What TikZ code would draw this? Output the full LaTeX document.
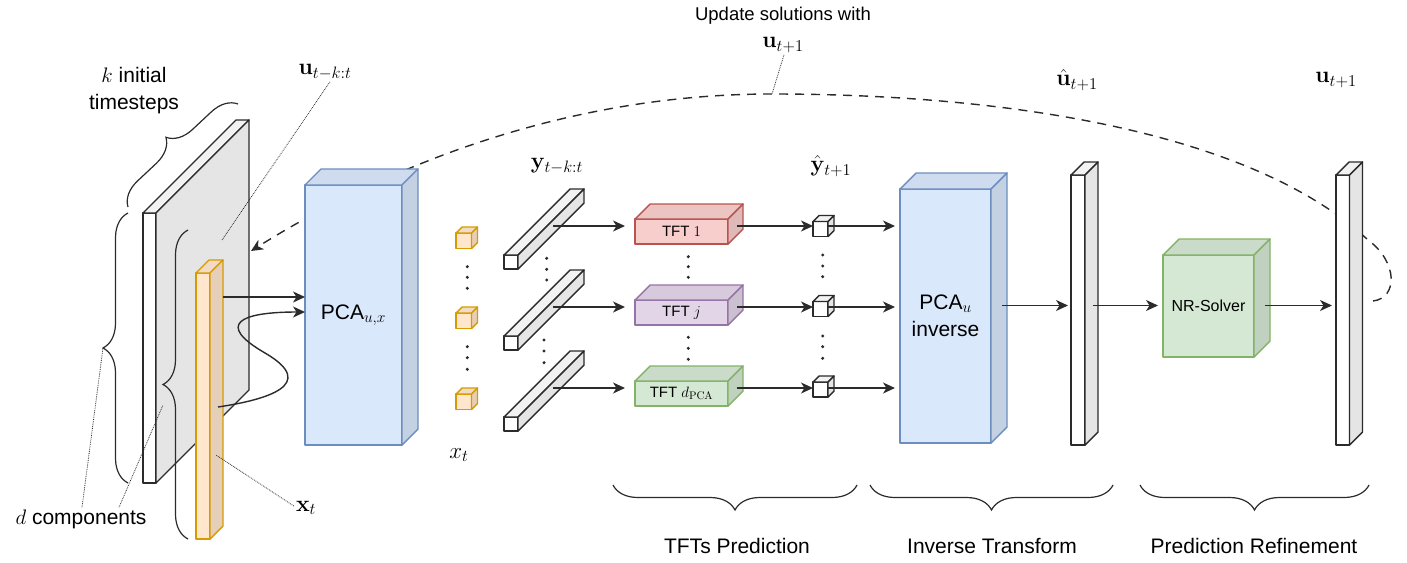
\documentclass[tikz,border=0pt]{standalone}
\usepackage{fix-cm}
\usepackage[no-math]{fontspec}
\setmainfont{Liberation Sans}
\usepackage{amsmath}
\usetikzlibrary{arrows.meta,calc,decorations.pathreplacing}
\DeclareMathSizes{21}{21}{15.5}{11}
\DeclareMathSizes{23}{23}{16.5}{12}
\DeclareMathSizes{15}{15}{11}{8}
\DeclareMathSizes{16}{16}{11.5}{8}
\DeclareMathSizes{18.5}{18.5}{13}{10}
\definecolor{BlueFill}{HTML}{DAE8FC}
\definecolor{BlueLine}{HTML}{6C8EBF}
\definecolor{OrangeFill}{HTML}{FFE6CC}
\definecolor{OrangeLine}{HTML}{D79B00}
\definecolor{RedFill}{HTML}{F8CECC}
\definecolor{RedLine}{HTML}{B85450}
\definecolor{PurpleFill}{HTML}{E1D5E7}
\definecolor{PurpleLine}{HTML}{9673A6}
\definecolor{GreenFill}{HTML}{D5E8D4}
\definecolor{GreenLine}{HTML}{82B366}
\definecolor{EdgeGray}{HTML}{2B2B2B}
\tikzset{>={Stealth[length=12pt,width=11pt,inset=3.5pt]},every node/.style={font=\fontsize{21}{27}\selectfont,inner sep=2pt},
 block/.style={draw,line width=1.4pt,line join=round,inner sep=0pt,outer sep=0pt,anchor=north west,align=center},
 tftbox/.style={block,minimum width=93pt,minimum height=25pt,font=\fontsize{15}{18}\selectfont},
 flow/.style={->,line width=1.4pt,draw=EdgeGray},
 leader/.style={densely dotted,line width=0.8pt,draw=EdgeGray},
 curly/.style={decorate,decoration={brace,amplitude=25pt},line width=1.2pt,draw=EdgeGray},
 mathlbl/.style={font=\fontsize{23}{27}\selectfont}}
% top and side faces of a box whose front face is node #1
\newcommand{\cubefaces}[4]{%
 \filldraw[#3!95!black,draw=#4,line width=1.4pt,line join=round]
  (#1.north west) -- ++(#2,-#2) -- ([shift={(#2,-#2)}]#1.north east) -- (#1.north east) -- cycle;
 \filldraw[#3!90!black,draw=#4,line width=1.4pt,line join=round]
  (#1.north east) -- ++(#2,-#2) -- ([shift={(#2,-#2)}]#1.south east) -- (#1.south east) -- cycle;}

\begin{document}
\begin{tikzpicture}[x=1pt,y=-1pt]
\useasboundingbox (0,0) rectangle (1407,562);

% feedback loop first, the blocks hide parts of it
\coordinate (loopstart) at (1373,301);
\coordinate (apex) at (772,94);
\coordinate (slabhit) at (251,251);
\draw[->,line width=1.4pt,draw=EdgeGray,dash pattern=on 9pt off 7pt] (loopstart) .. controls (1398,298) and (1398,262) .. (1368,240)
 .. controls (1250,130) and (1000,94) .. (apex) .. controls (560,94) and (380,170) .. (slabhit);
\node[align=center] (updlbl) at (783,30) {\fontsize{18.5}{26}\selectfont Update solutions with\\\fontsize{23}{26}\selectfont$\mathbf{u}_{t+1}$};
\draw[leader] ([xshift=1pt]updlbl.south) -- (apex);

% input slab and x_t column
\node[block,fill=white,draw=EdgeGray,minimum width=13pt,minimum height=270pt] (slab) at (143,213) {};
\cubefaces{slab}{93}{white}{EdgeGray}
\node[block,fill=OrangeFill,draw=OrangeLine,minimum width=14pt,minimum height=266pt] (xbar) at (196,273) {};
\cubefaces{xbar}{13}{OrangeFill}{OrangeLine}

\draw[curly] (128,207) -- (238,104);
\draw[curly] (128,483) -- (128,213);
\draw[curly] (188,539) -- (188,230);
\node[align=center] (klbl) at (134,91) {$k$ initial\\timesteps};
\node (dlbl) at (81,519) {$d$ components};
\coordinate (dtip1) at (103,348);
\coordinate (dtip2) at (163,405);
\draw[leader] ([xshift=1pt]dlbl.north) -- (dtip1);
\draw[leader] ([xshift=38pt]dlbl.north) -- (dtip2);
\node[mathlbl] (ulbl) at (325,72) {$\mathbf{u}_{t-k:t}$};
\coordinate (slabspot) at (222,240);
\draw[leader] ([xshift=5pt]ulbl.south) -- (slabspot);
\node[mathlbl] (xlbl) at (306,508) {$\mathbf{x}_t$};
\coordinate (xspot) at (216,455);
\draw[leader] ([yshift=2pt]xlbl.west) -- (xspot);

% PCA over u and x
\node[block,fill=BlueFill,draw=BlueLine,minimum width=97pt,minimum height=260pt] (pcaux) at (305,185) {PCA$_{u,x}$};
\cubefaces{pcaux}{16}{BlueFill}{BlueLine}
\draw[flow] ([shift={(13,24)}]xbar.north east) coordinate (xs) -- (xs -| pcaux.west);
\draw[flow] ([shift={(8,134)}]xbar.north east) .. controls (265,400) and (320,385) .. (265,353)
 .. controls (215,324) and (240,312) .. ([yshift=3pt]pcaux.west);

% reduced components
\foreach \i/\y in {1/233,2/313,3/394}{
 \node[block,fill=OrangeFill,draw=OrangeLine,minimum size=15.5pt] (xc\i) at (456,\y) {};
 \cubefaces{xc\i}{6}{OrangeFill}{OrangeLine}
}
\node[mathlbl] (xtlbl) at (459,455) {$x_t$};
\node[mathlbl] (ylbl) at (557,166) {$\mathbf{y}_{t-k:t}$};
\node[mathlbl] (yhatlbl) at (831,166) {$\hat{\mathbf{y}}_{t+1}$};

\node[tftbox,fill=RedFill,draw=RedLine] (tft1) at (635,219) {TFT $1$};
\node[tftbox,fill=PurpleFill,draw=PurpleLine] (tft2) at (635,300) {TFT $j$};
\node[tftbox,fill=GreenFill,draw=GreenLine] (tft3) at (635,381) {TFT $d_{\mathrm{PCA}}$};
\cubefaces{tft1}{15}{RedFill}{RedLine}
\cubefaces{tft2}{15}{PurpleFill}{PurpleLine}
\cubefaces{tft3}{15}{GreenFill}{GreenLine}

\node[block,fill=BlueFill,draw=BlueLine,minimum width=91pt,minimum height=254pt] (pcainv) at (900,189) {PCA$_u$\\inverse};
\cubefaces{pcainv}{16}{BlueFill}{BlueLine}

\foreach \i/\y in {1/255,2/336,3/417}{
 \node[block,fill=white,draw=EdgeGray,minimum size=14pt] (ybar\i) at (504,\y) {};
 \cubefaces{ybar\i}{66}{white}{EdgeGray}
}
\foreach \i/\y in {1/221.5,2/301.5,3/382}{
 \node[block,fill=white,draw=EdgeGray,minimum size=15pt] (wc\i) at (813,\y) {};
 \cubefaces{wc\i}{6}{white}{EdgeGray}
}
\foreach \i in {1,2,3}{
 \draw[flow,shorten >=10pt] ([shift={(35,-36)}]ybar\i.east) coordinate (row\i) -- (row\i -| tft\i.west);
 \draw[flow] ($(tft\i.east |- row\i)+(9,0)$) -- (row\i -| wc\i.west);
 \draw[flow,shorten >=5pt] (row\i -| wc\i.east) -- (row\i -| pcainv.west);
}
\foreach \x/\y in {467.3/266.7,467.3/277.3,467.3/288.3,467.3/346.7,467.3/357.7,467.3/369.3,
 546.7/258.3,546.7/269.3,546.7/280,544/340,544/351,544/362.7,
 688.3/256.7,688.3/266.7,688.3/277.3,688.3/337.3,688.3/348.3,688.3/359.3,
 822.7/255,822.7/266,822.7/276.7,822.7/336,822.7/346.7,822.7/358.3}
 \fill[EdgeGray] (\x,\y) circle (1.7pt);

% reconstruction and refinement
\node[block,fill=white,draw=EdgeGray,minimum width=14pt,minimum height=270pt] (uhat) at (1071,175) {};
\cubefaces{uhat}{13}{white}{EdgeGray}
\node[block,fill=GreenFill,draw=GreenLine,minimum width=91pt,minimum height=102pt,font=\fontsize{16}{19}\selectfont] (nrs) at (1163,255) {NR-Solver};
\cubefaces{nrs}{16}{GreenFill}{GreenLine}
\node[block,fill=white,draw=EdgeGray,minimum width=13.5pt,minimum height=270pt] (ubar) at (1336,175) {};
\cubefaces{ubar}{13}{white}{EdgeGray}
\node[mathlbl] (uhatlbl) at (1077,80) {$\hat{\mathbf{u}}_{t+1}$};
\node[mathlbl] (ubarlbl) at (1336,80) {$\mathbf{u}_{t+1}$};

\draw[flow,shorten >=3pt] ([shift={(11,-10.5)}]pcainv.east) coordinate (rr) -- (rr -| uhat.west);
\draw[flow,shorten >=5pt] ($(uhat.east |- rr)+(8,0)$) -- (rr -| nrs.west);
\draw[flow,shorten >=4pt] ($(nrs.east |- rr)+(11,0)$) -- (rr -| ubar.west);

% stage braces
\draw[curly] (857,485) -- (613,485);
\draw[curly] (1113,485) -- (870,485);
\draw[curly] (1369,485) -- (1140,485);
\node (stage1) at (737,546) {TFTs Prediction};
\node (stage2) at (992,546) {Inverse Transform};
\node (stage3) at (1254,546) {Prediction Refinement};
\end{tikzpicture}
\end{document}
